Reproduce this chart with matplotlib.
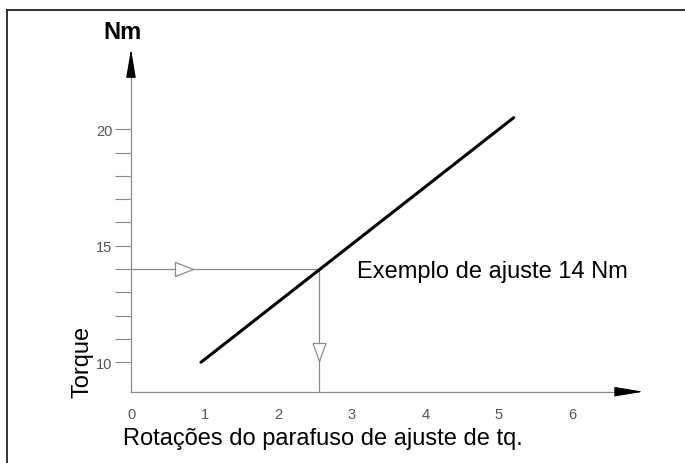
import numpy as np
from matplotlib import pyplot as plt
from matplotlib.lines import Line2D

plt.rcParams["font.family"] = ["Liberation Sans", "DejaVu Sans"]

# dados
turns = [0.95, 5.2]          # rotações
torque = [10, 20.5]          # Nm
set_torque = 14
set_turns = 2.55
x_ticks = [0, 1, 2, 3, 4, 5, 6]
y_major = [10, 15, 20]
y_minor = [11, 12, 13, 14, 16, 17, 18, 19]

gray = "#8c8c8c"
label_gray = "#555555"

fig = plt.figure(figsize=(6.85, 4.64), dpi=100)
ax = fig.add_axes([0, 0, 1, 1])
ax.set_xlim(-1.78, 7.527)
ax.set_ylim(5.68, 25.59)
ax.patch.set_alpha(0)

# eixos
y0 = 8.74
x_head, x_tip = 6.617, 6.96
y_head, y_tip = 22.37, 23.45
for s in ["top", "right"]:
    ax.spines[s].set_visible(False)
ax.spines["left"].set_position(("data", 0))
ax.spines["bottom"].set_position(("data", y0))
ax.spines["left"].set_bounds(y0, y_head)
ax.spines["bottom"].set_bounds(0, x_head)
for s in ["left", "bottom"]:
    ax.spines[s].set_color(gray)
    ax.spines[s].set_linewidth(0.9)

ax.set_yticks(y_major)
ax.set_yticks(y_minor, minor=True)
ax.tick_params(axis="y", which="both", direction="out", length=11.5, width=0.8,
               color=gray, labelcolor=label_gray, labelsize=10.5, pad=2)
ax.set_xticks(x_ticks)
ax.tick_params(axis="x", length=0, labelcolor=label_gray, labelsize=10.5, pad=11)

# setas dos eixos
arrow = dict(arrowstyle="-|>,head_length=18,head_width=3", mutation_scale=1,
             color="black", lw=0.8, shrinkA=0, shrinkB=0)
ax.annotate("", xy=(0, y_tip), xytext=(0, y_head), arrowprops=arrow)
ax.annotate("", xy=(x_tip, y0), xytext=(x_head, y0), arrowprops=arrow)

# linhas de ajuste
ax.plot([0, set_turns], [set_torque, set_torque], color=gray, lw=0.9)
ax.plot([set_turns, set_turns], [set_torque, y0], color=gray, lw=0.9)
tri_right = [(-1, -0.78), (1, 0), (-1, 0.78), (-1, -0.78)]
tri_down = [(-0.72, 1), (0.72, 1), (0, -1), (-0.72, 1)]
ax.plot(0.72, set_torque, marker=tri_right, markersize=13, mfc="white", mec=gray, mew=0.9)
ax.plot(set_turns, 10.45, marker=tri_down, markersize=13, mfc="white", mec=gray, mew=0.9)

# curva
ax.plot(turns, torque, color="black", lw=2.2, solid_capstyle="round")

# textos
ax.text(3.07, 13.66, "Exemplo de ajuste 14 Nm", fontsize=17, va="baseline", ha="left")
ax.text(-0.11, 6.49, "Rotações do parafuso de ajuste de tq.", fontsize=17, va="baseline", ha="left")
ax.text(-0.66, 8.51, "Torque", fontsize=17, rotation=90, ha="center", va="bottom")
ax.text(-0.12, 23.9, "Nm", fontsize=17, fontweight="bold", ha="center", va="baseline")

# moldura
fig.add_artist(Line2D([7 / 685, 1], [1 - 10.5 / 464] * 2, color="#222222", lw=1.3))
fig.add_artist(Line2D([7 / 685] * 2, [0, 1 - 10.5 / 464], color="#222222", lw=1.3))

fig.savefig("out.png", dpi=100)
